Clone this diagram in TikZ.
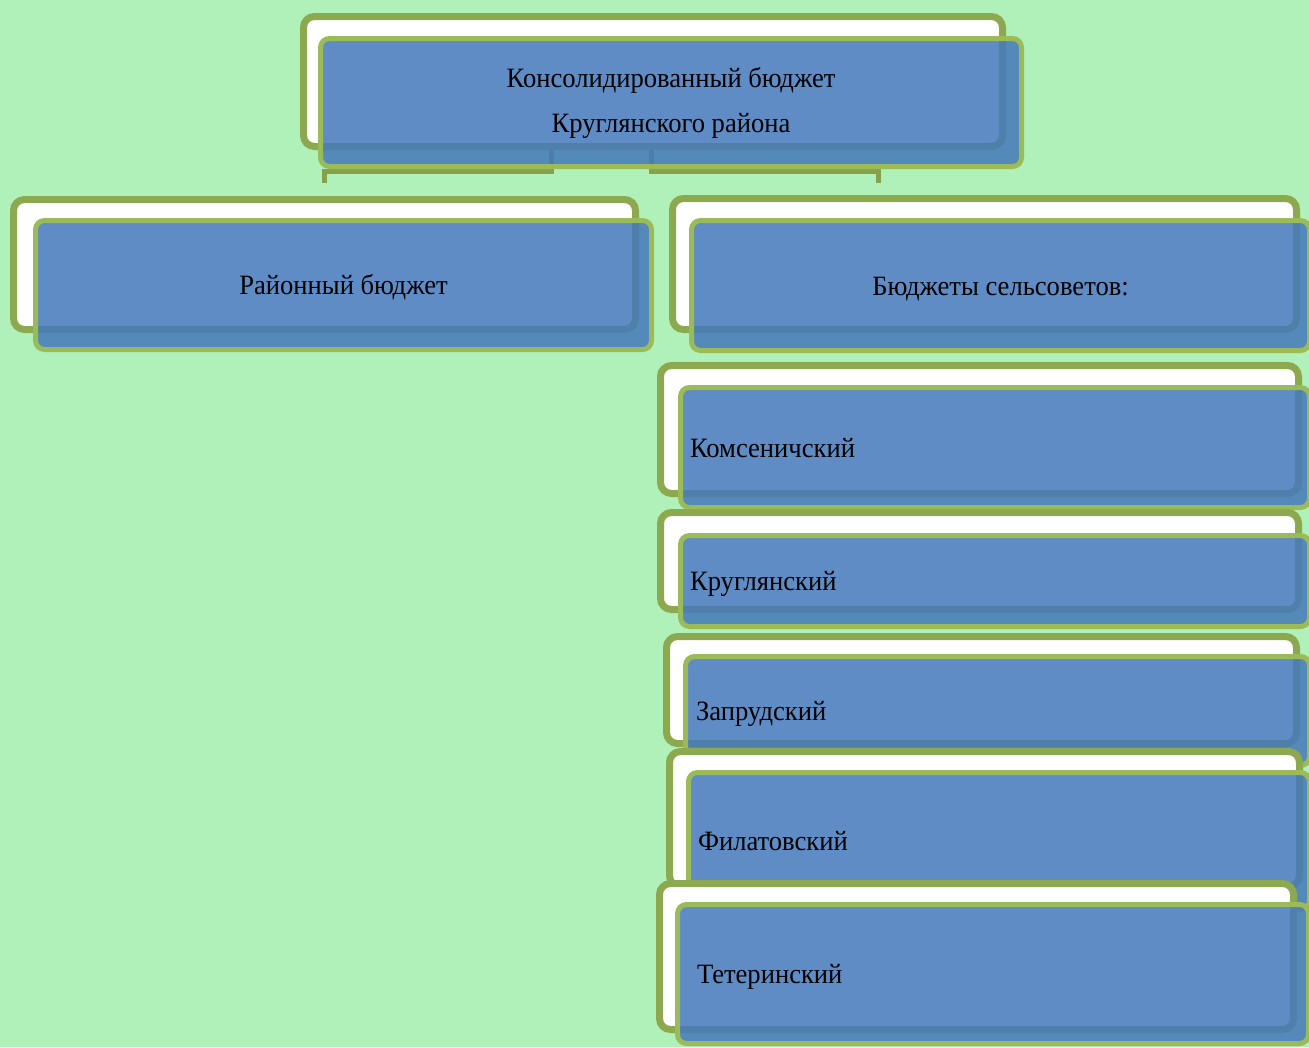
\documentclass[tikz,border=0pt]{standalone}
\usepackage{fontspec}
\setmainfont{Liberation Serif}[FakeStretch=0.95]
\usetikzlibrary{shadows}
\definecolor{bgc}{RGB}{175,241,185}
\definecolor{olivec}{RGB}{141,169,80}
\definecolor{lgreenc}{RGB}{155,187,89}
\definecolor{bluec}{RGB}{67,121,187}
\tikzset{
  backbox/.style={draw=olivec, line width=7pt, fill=white, rounded corners=11pt, inner sep=0pt,
    drop shadow={shadow xshift=1pt, shadow yshift=-3pt, opacity=0.25, fill=black!60}},
  frontbox/.style={draw=lgreenc, line width=5pt, fill=bluec, fill opacity=0.85, text opacity=1,
    rounded corners=9pt, inner sep=0pt, font=\fontsize{28}{45}\selectfont},
  oneline/.style={text height=25pt, text depth=6pt},
  conn/.style={draw=olivec!95!black, line width=5pt},
}
\newcommand\mkback[5]{%
  \node[backbox, minimum width={#4-#2-7}, minimum height={#5-#3-7}] (#1) at ({(#2+#4)/2},{(#3+#5)/2}) {};}
\newcommand\mkfront[7]{%
  \node[frontbox, align=center, minimum width={#4-#2-5}, minimum height={#5-#3-5}, #7] (#1) at ({(#2+#4)/2},{(#3+#5)/2}) {#6};}
\newcommand\mkfrontl[7]{%
  \pgfmathsetmacro\mytw{#4-#2-5-2*#6}%
  \node[frontbox, oneline, align=left, text width=\mytw pt, minimum width={#4-#2-5}, minimum height={#5-#3-5}] (#1) at ({(#2+#4)/2},{(#3+#5)/2}) {#7};}
\begin{document}
\begin{tikzpicture}[x=1pt,y=-1pt]
  \useasboundingbox (0,0) rectangle (1309,1047);
  \clip (0,0) rectangle (1309,1047);
  \fill[bgc] (0,0) rectangle (1309,1047);
  % root
  \mkback{rootb}{300}{13}{1006}{150}
  \coordinate (cl) at (324,183);
  \coordinate (cr) at (878,183);
  \draw[conn] ([xshift=-102pt]rootb.south) -- ++(0,21) -| (cl);
  \draw[conn] ([xshift=-2pt]rootb.south) -- ++(0,21) -| (cr);
  \mkfront{root}{318}{35}{1024}{168}{Консолидированный бюджет\\Круглянского района}{yshift=-1pt}
  % second level
  \mkback{raionb}{10}{196}{639}{333}
  \mkfront{raion}{33}{218}{654}{352}{Районный бюджет}{oneline}
  \mkback{selsb}{669}{195}{1300}{333}
  \mkfront{sels}{689}{218}{1312}{353}{Бюджеты сельсоветов:}{oneline}
  % village councils
  \mkback{komb}{657}{362}{1302}{497}
  \mkfrontl{kom}{678}{385}{1312}{510}{9.5}{Комсеничский}
  \mkback{krub}{657}{509}{1302}{613}
  \mkfrontl{kru}{678}{533}{1312}{629}{9.5}{Круглянский}
  \mkback{zapb}{663}{633}{1300}{747}
  \mkfrontl{zap}{683}{654}{1312}{768}{10.5}{Запрудский}
  \mkback{filb}{666}{748}{1303}{890}
  \mkfrontl{fil}{686}{770}{1312}{912}{9.5}{Филатовский}
  \mkback{tetb}{656}{880}{1297}{1033}
  \mkfrontl{tet}{675}{902}{1311}{1046}{19.5}{Тетеринский}
\end{tikzpicture}
\end{document}
